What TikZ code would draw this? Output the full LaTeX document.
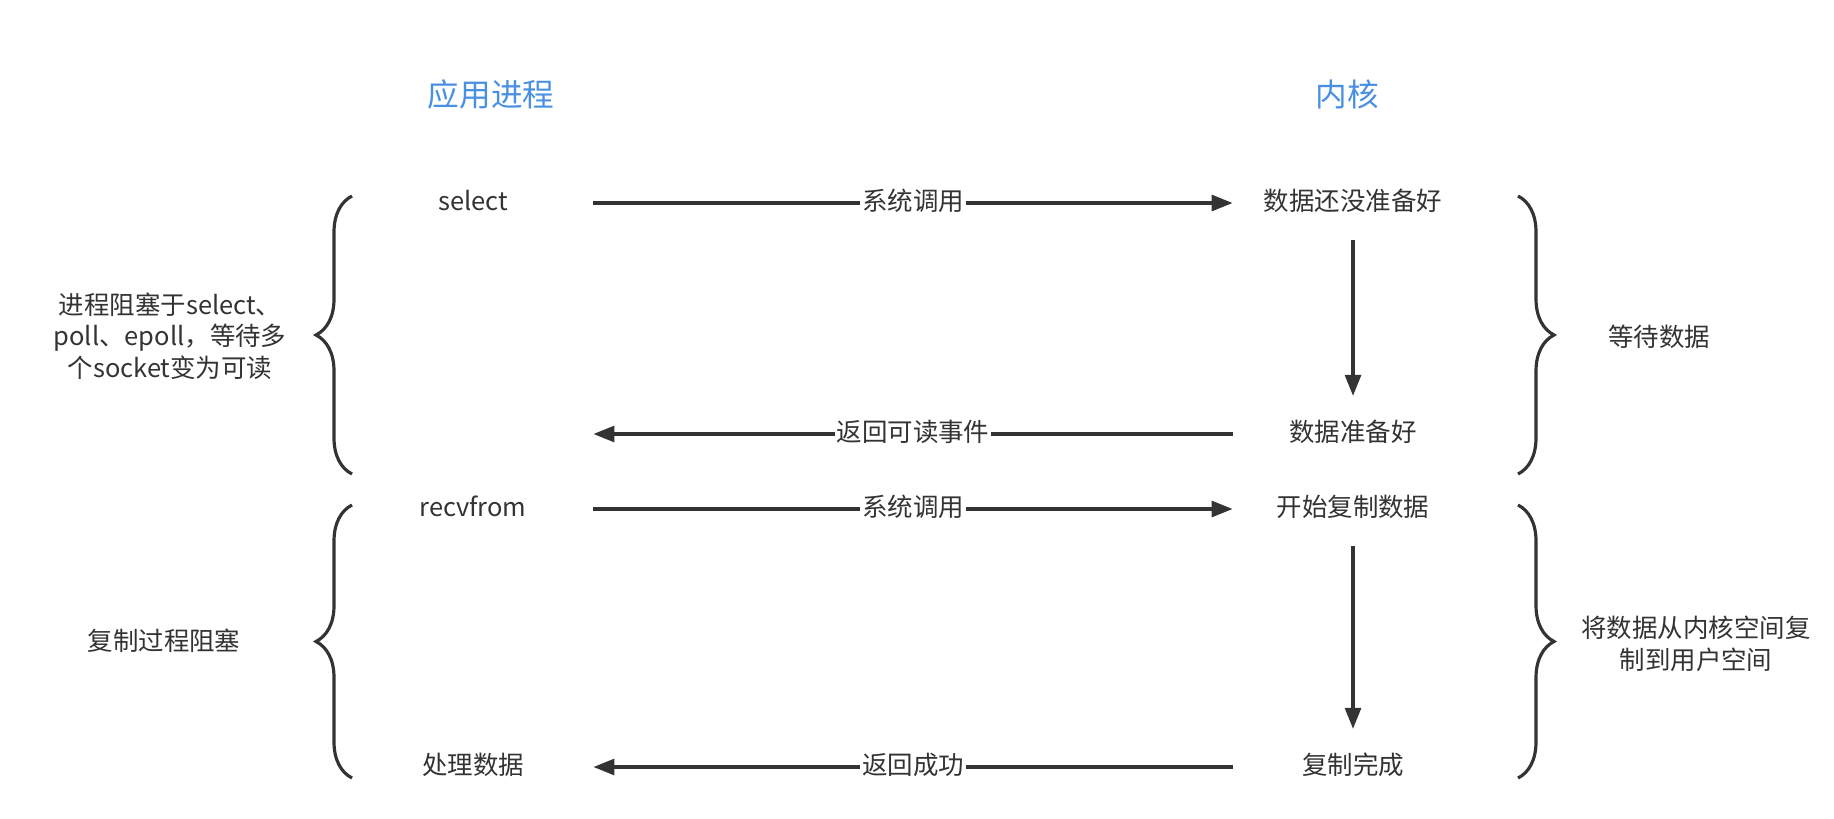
\documentclass[tikz,border=0pt]{standalone}
\usepackage{fontspec}
\setmainfont{Noto Sans CJK SC}
\usepackage{xcolor}
\usetikzlibrary{positioning,arrows.meta,decorations.pathreplacing}

\definecolor{ink}{RGB}{51,51,51}
\definecolor{headblue}{RGB}{74,144,226}

\tikzset{
  col/.style={text=ink, minimum width=4.8cm, inner sep=0.15cm, text height=0.95em, text depth=0.1em},
  flow/.style={ink, line width=2pt, -{Triangle[length=12pt,width=9pt]}},
  tag/.style={fill=white, text=ink, inner sep=1pt, text height=0.95em, text depth=0.1em},
  curly/.style={ink, line width=1.8pt, decorate, decoration={brace, amplitude=0.72cm}},
  note/.style={text=ink, align=center},
  head/.style={text=headblue, font=\fontsize{18}{22}\selectfont}
}

\begin{document}
\begin{tikzpicture}[x=0.02cm, y=-0.02cm, font=\fontsize{14.5}{18}\selectfont]
\useasboundingbox (0,0) rectangle (1834,818);

\node[head] (app) at (491,94) {应用进程};
\node[head] (kern) at (1347,94) {内核};

\node[col] (select) at (473,203) {select};
\node[col] (notready) at (1353,203) {数据还没准备好};
\node[col] (ready) at (1353,434) {数据准备好};
\node[col] (recv) at (473,509) {recvfrom};
\node[col] (copy) at (1353,509) {开始复制数据};
\node[col] (done) at (1353,767) {复制完成};
\node[col] (handle) at (473,767) {处理数据};

\draw[flow] (select.east) -- node[tag] {系统调用} (notready.west);
\draw[flow] (ready.west) -- node[tag] {返回可读事件} (ready.west -| select.east);
\draw[flow] (recv.east) -- node[tag] {系统调用} (copy.west);
\draw[flow] (done.west) -- node[tag] {返回成功} (handle.east);

\draw[flow, shorten <=0.4cm, shorten >=0.42cm] (notready) -- (ready);
\draw[flow, shorten <=0.4cm, shorten >=0.42cm] (copy) -- (done);

\foreach \ya/\yb in {196/474, 505/778}
	{\draw[curly] (352,\yb) -- (352,\ya);
	\draw[curly] (1518,\ya) -- (1518,\yb);}

\node[note] (blocka) at (170,336) {进程阻塞于select、\\poll、epoll，等待多\\个socket变为可读};
\node[note] (blockb) at (164,641) {复制过程阻塞};
\node[note] (waitd) at (1659,337) {等待数据};
\node[note] (copyd) at (1696,644) {将数据从内核空间复\\制到用户空间};
\end{tikzpicture}
\end{document}
